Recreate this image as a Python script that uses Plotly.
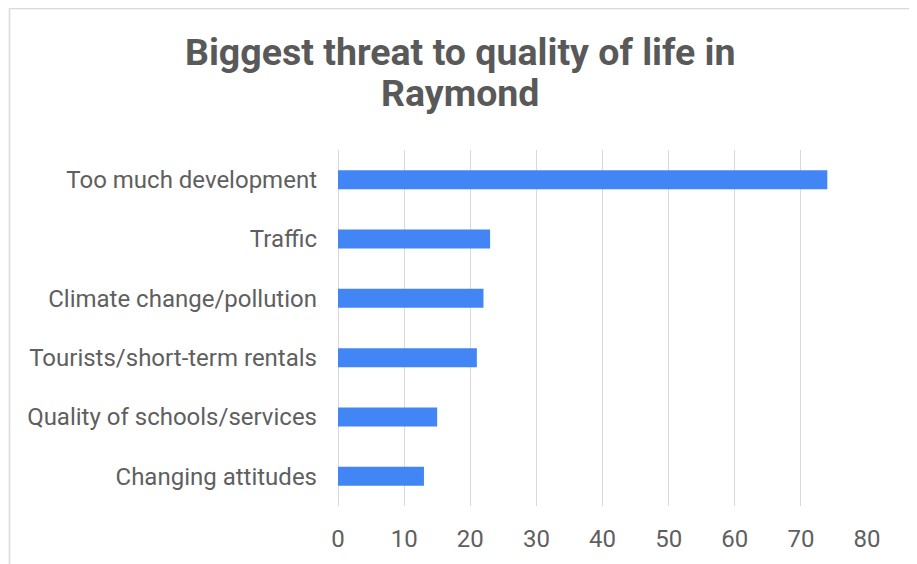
import plotly.graph_objects as go

categories = ["Too much development", "Traffic", "Climate change/pollution",
              "Tourists/short-term rentals", "Quality of schools/services",
              "Changing attitudes"]
values = [74, 23, 22, 21, 15, 13]
x_ticks = [0, 10, 20, 30, 40, 50, 60, 70, 80]
title_lines = ["Biggest threat to quality of life in", "Raymond"]

W, H = 917, 564
# page body has an 8px margin; layout is in figure coordinates
L, R, T, B = 330, 58, 142, 66
pw = W - L - R
ph = H - T - B


def px_x(x):
    return (x - L) / pw


def px_y(y):
    return (H - B - y) / ph


fig = go.Figure(go.Bar(
    x=values, y=categories, orientation="h",
    marker=dict(color="#4285F4", line=dict(width=0)),
    width=0.32,
))

title_font = dict(family="Roboto", size=37.5, color="#595959")
annotations = []
for i, line in enumerate(title_lines):
    annotations.append(dict(
        text="<b>" + line + "</b>", showarrow=False,
        xref="paper", yref="paper",
        x=px_x(452), y=px_y(44 + 41 * i),
        xanchor="center", yanchor="middle",
        font=title_font,
    ))

fig.update_layout(
    width=W, height=H,
    margin=dict(l=L, r=R, t=T, b=B, autoexpand=False),
    paper_bgcolor="white", plot_bgcolor="white",
    showlegend=False,
    font=dict(family="Roboto", size=24, color="#5f5f5f"),
    xaxis=dict(
        range=[0, 80], tickvals=x_ticks, showgrid=True,
        gridcolor="#d9d9d9", gridwidth=1.3, zeroline=True,
        zerolinecolor="#d9d9d9", zerolinewidth=1.3,
        showline=False, ticks="", ticklabelstandoff=16,
        tickfont=dict(size=24, color="#5f5f5f"),
    ),
    yaxis=dict(
        categoryorder="array", categoryarray=categories[::-1],
        showgrid=False, zeroline=False, showline=False, ticks="",
        ticklabelstandoff=20,
        tickfont=dict(size=24, color="#5f5f5f"),
    ),
    annotations=annotations,
    shapes=[dict(
        type="rect", xref="paper", yref="paper",
        x0=px_x(1.5), x1=px_x(902),
        y0=-0.3, y1=px_y(0.5),
        line=dict(color="#d9d9d9", width=1.5), layer="below",
    )],
)

fig.write_html("out.html")
